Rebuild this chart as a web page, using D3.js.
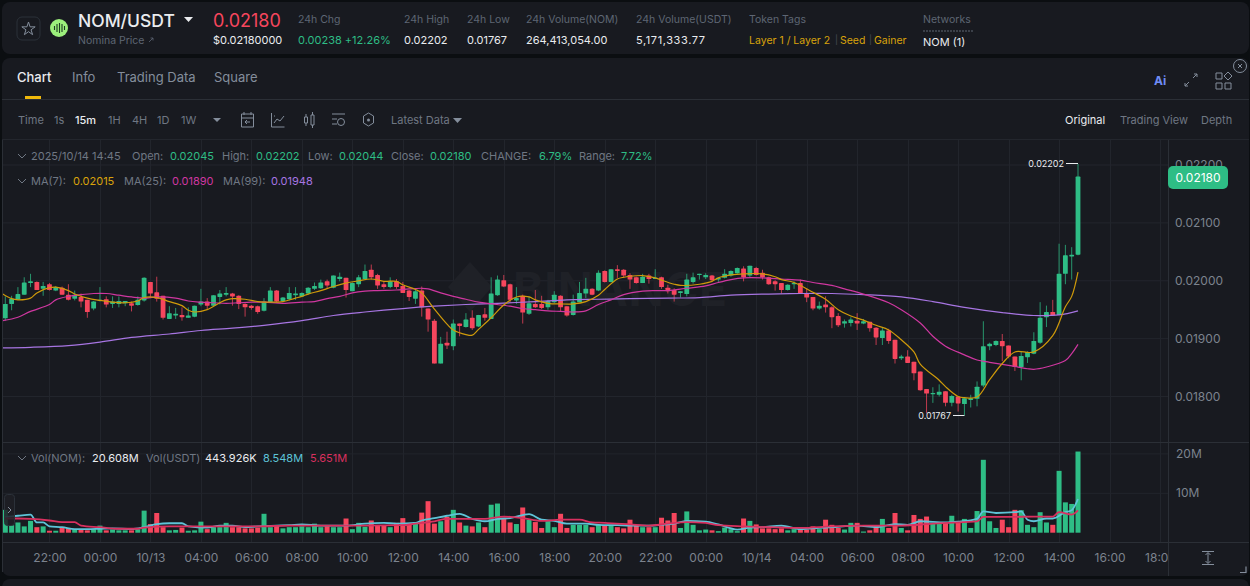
<!DOCTYPE html>
<html>
<head>
<meta charset="utf-8">
<style>
html, body { margin: 0; padding: 0; background: #0b0e11; overflow: hidden; }
svg { display: block; font-family: Inter, "Noto Sans", sans-serif; }
.yaxis text, .xaxis text { fill: #7c838e; font-size: 12px; font-family: Inter, sans-serif; }
</style>
</head>
<body>
<svg id="chart" width="1250" height="586"></svg>
<script src="https://cdn.jsdelivr.net/npm/d3@7"></script>
<script>
// prices are in units of 0.00001 USDT, one entry per 15m candle
var opens = [
  1935,1960,1967,1976,1996,1998,1986,1994,1983,1988,
  1976,1969,1972,1967,1952,1966,1968,1960,1960,1961,
  1961,1958,1966,1998,1980,1974,1934,1940,1941,1936,
  1938,1959,1964,1957,1972,1976,1978,1974,1960,1957,
  1956,1948,1963,1983,1965,1968,1975,1973,1978,1986,
  1987,1999,1988,2003,2005,1982,1994,2003,2019,2010,
  1994,1989,1999,1991,1983,1969,1983,1952,1931,1857,
  1893,1887,1926,1920,1936,1921,1942,1934,1975,2001,
  1994,1966,1974,1943,1960,1960,1954,1963,1974,1956,
  1941,1963,1978,1986,1983,2017,1998,2020,2019,2010,
  2006,1996,2009,2003,2006,1988,1984,1979,1977,1998,
  2010,2006,2009,2002,2005,2009,2013,2021,2009,2022,
  2014,2006,1999,1996,1984,1994,1996,1979,1972,1952,
  1959,1954,1939,1926,1927,1931,1926,1929,1919,1901,
  1914,1898,1866,1869,1860,1843,1813,1804,1803,1809,
  1789,1800,1787,1794,1796,1819,1887,1889,1896,1888,
  1869,1851,1868,1874,1893,1937,1946,1941,2012,2042,
  2045];
var closes = [
  1960,1969,1977,1997,1999,1984,1991,1984,1989,1976,
  1967,1976,1964,1946,1964,1967,1959,1964,1965,1965,
  1957,1967,2005,1978,1969,1936,1944,1943,1937,1940,
  1957,1964,1957,1975,1978,1979,1973,1960,1954,1953,
  1946,1964,1983,1964,1971,1979,1978,1979,1988,1991,
  1997,1992,2009,2007,1984,1996,2006,2017,2006,1992,
  1989,1999,1989,1979,1972,1982,1954,1933,1857,1891,
  1888,1926,1922,1933,1918,1941,1936,1978,2002,1990,
  1967,1970,1945,1961,1954,1953,1965,1976,1954,1940,
  1964,1979,1986,1976,2014,1998,2020,2017,2009,2002,
  1996,2007,2003,2005,1989,1982,1976,1982,2002,2006,
  2012,2010,2001,2005,2012,2017,2022,2006,2026,2010,
  2006,1994,1994,1984,1993,1996,1978,1971,1952,1957,
  1954,1937,1923,1930,1933,1926,1930,1918,1902,1914,
  1896,1865,1869,1858,1840,1811,1805,1806,1808,1789,
  1801,1788,1797,1797,1817,1887,1891,1896,1887,1869,
  1851,1870,1877,1896,1936,1946,1940,2012,2044,2045,
  2180];
var highs = [
  1973,1974,1989,2006,2012,1999,1998,1996,1991,1990,
  1994,1983,1978,1967,1965,1989,1973,1973,1973,1965,
  1964,1973,2006,1998,2007,1974,1956,1953,1954,1954,
  1957,1986,1970,1975,1984,1989,1979,1975,1961,1958,
  1957,1970,1989,1984,1972,1989,1989,1980,1989,1997,
  2002,2002,2009,2014,2005,1997,2010,2028,2028,2012,
  1999,2006,2003,1998,1984,1987,1990,1952,1934,1903,
  1912,1933,1926,1944,1949,1941,1953,2006,2009,2010,
  1995,1989,1976,1973,1984,1974,1967,1982,1975,1956,
  1976,1998,2005,1987,2018,2018,2020,2027,2020,2013,
  2007,2012,2012,2020,2007,1993,1987,1982,2012,2014,
  2012,2013,2010,2006,2020,2018,2023,2025,2026,2024,
  2019,2007,2001,1996,1994,1999,2002,1987,1972,1964,
  1973,1956,1944,1933,1937,1944,1934,1929,1920,1919,
  1917,1898,1872,1880,1860,1843,1813,1816,1821,1809,
  1803,1800,1797,1803,1826,1930,1893,1897,1908,1888,
  1869,1878,1878,1911,1963,1957,1967,2064,2062,2058,
  2202];
var lows = [
  1931,1949,1967,1976,1989,1984,1974,1983,1982,1976,
  1966,1966,1954,1936,1949,1964,1954,1953,1954,1956,
  1947,1957,1964,1970,1964,1933,1934,1934,1931,1936,
  1937,1956,1950,1956,1959,1973,1957,1951,1938,1950,
  1943,1947,1963,1963,1963,1966,1967,1972,1976,1984,
  1986,1986,1987,1999,1971,1982,1989,2002,2002,1986,
  1986,1987,1986,1979,1965,1960,1938,1912,1857,1857,
  1882,1880,1904,1919,1915,1920,1931,1934,1974,1989,
  1963,1960,1926,1941,1953,1951,1950,1961,1947,1938,
  1940,1963,1970,1975,1982,1997,1997,2005,2005,1986,
  1995,1996,1995,2003,1986,1978,1964,1971,1973,1995,
  2002,2003,1999,1998,2004,2007,2012,1999,2006,2009,
  2002,1993,1983,1978,1983,1986,1978,1963,1949,1950,
  1945,1918,1920,1919,1921,1915,1925,1912,1889,1889,
  1891,1857,1863,1858,1828,1810,1771,1789,1800,1783,
  1783,1774,1767,1781,1783,1816,1880,1887,1861,1866,
  1844,1828,1858,1873,1891,1920,1940,1941,1994,2002,
  2044];
// volume in millions of NOM
var vols = [
  5.8,1.9,2.6,1.6,3.0,1.4,1.6,0.5,0.5,1.2,
  1.1,0.9,0.8,0.6,0.9,1.8,0.6,0.8,0.6,0.6,
  0.6,0.9,5.6,2.2,5.0,1.4,0.6,0.7,1.3,0.5,
  0.6,2.8,0.9,1.4,1.4,2.5,1.4,1.4,1.1,1.1,
  1.3,4.8,1.4,1.8,1.1,1.4,1.4,1.6,1.4,2.3,
  1.4,1.6,1.4,1.4,3.6,0.9,2.5,1.5,3.1,1.8,
  1.8,1.4,2.5,3.7,2.3,2.6,5.1,8.0,2.3,2.9,
  4.0,5.8,2.6,1.8,1.6,2.6,1.4,7.1,7.4,3.7,
  2.6,2.2,6.4,3.3,2.7,1.2,2.9,1.4,4.8,1.2,
  2.0,2.0,2.0,1.4,2.0,1.8,1.8,1.4,1.1,3.3,
  1.9,1.4,1.4,1.4,3.8,3.1,5.0,1.2,5.4,2.0,
  0.6,0.8,0.6,0.4,1.3,0.9,0.4,3.6,3.0,2.1,
  1.1,1.1,0.9,1.1,0.6,0.9,0.9,0.8,1.6,0.9,
  3.3,2.0,1.2,0.8,2.5,2.5,0.3,0.6,1.8,3.5,
  1.2,5.0,1.2,0.6,4.5,3.5,4.1,2.5,2.5,2.5,
  4.3,2.5,3.5,1.2,5.5,18.5,2.9,1.2,3.3,1.4,
  5.8,5.7,2.0,1.4,5.2,2.6,2.0,15.7,7.7,7.3,
  20.6];

// moving averages: [candle number, value]
var ma7 = [[-0.4,1977],[1,1969],[2,1967],[4,1970],[5,1979],[7,1988],[8,1989],[10,1983],[11,1977],[13,1970],[15,1966],[17,1963],[19,1962],[21,1965],[22,1971],[24,1971],[26,1964],[28,1957],[29,1949],[30,1946],[32,1950],[34,1962],[35,1967],[36,1969],[38,1968],[40,1964],[42,1963],[44,1964],[46,1970],[47,1973],[48,1977],[50,1983],[52,1990],[54,1996],[56,2000],[58,2003],[60,1999],[62,1999],[63,1993],[65,1985],[66,1979],[68,1951],[70,1925],[71,1915],[73,1907],[74,1906],[75,1916],[77,1936],[79,1958],[81,1972],[83,1972],[84,1967],[86,1961],[88,1960],[90,1960],[92,1964],[94,1975],[95,1985],[97,2003],[98,2006],[101,2009],[103,2005],[104,2001],[106,1994],[107,1992],[110,1994],[112,1999],[113,2005],[115,2010],[117,2012],[120,2012],[122,2007],[123,2002],[125,1997],[128,1980],[130,1968],[132,1950],[134,1939],[136,1932],[138,1923],[140,1915],[142,1898],[144,1877],[145,1856],[148,1828],[149,1817],[151,1800],[152,1798],[154,1799],[156,1829],[158,1857],[160,1877],[163,1877],[166,1905],[168,1955],[169,1973],[170,2015]];
var ma25 = [[-0.4,1931],[2,1937],[4,1947],[7,1959],[8,1967],[10,1973],[12,1976],[14,1978],[16,1978],[18,1975],[20,1972],[22,1970],[24,1972],[27,1970],[29,1965],[31,1963],[33,1962],[35,1961],[37,1962],[39,1963],[41,1963],[44,1961],[47,1963],[49,1964],[51,1969],[53,1973],[55,1979],[57,1982],[59,1983],[62,1984],[64,1986],[66,1987],[67,1986],[69,1979],[71,1973],[73,1968],[75,1963],[77,1960],[80,1956],[82,1952],[84,1950],[86,1948],[88,1947],[90,1946],[92,1948],[94,1959],[96,1967],[98,1976],[101,1982],[103,1983],[105,1983],[108,1987],[111,1991],[113,1997],[115,2002],[117,2005],[120,2005],[123,2003],[126,2001],[128,1997],[131,1992],[133,1986],[136,1977],[140,1962],[142,1950],[145,1927],[147,1904],[149,1887],[152,1872],[154,1863],[156,1859],[160,1852],[162,1848],[163,1847],[165,1851],[168,1862],[169,1874],[170,1890]];
var ma99 = [[-0.4,1884],[4,1885],[10,1888],[15,1894],[20,1902],[26,1908],[31,1914],[36,1918],[41,1923],[47,1931],[52,1940],[57,1946],[63,1952],[68,1956],[73,1959],[78,1961],[84,1964],[89,1967],[94,1968],[99,1969],[105,1970],[110,1971],[115,1975],[121,1977],[126,1978],[131,1978],[136,1976],[142,1972],[147,1964],[152,1954],[158,1945],[163,1940],[167,1941],[170,1948]];
var volMaShort = [[0,4.0],[2,4.3],[4,4.6],[5,2.6],[6,2.6],[7,1.6],[9,1.4],[11,0.9],[13,0.9],[15,1.0],[17,1.1],[20,0.9],[22,1.4],[24,2.2],[26,2.4],[28,2.4],[29,1.6],[32,1.3],[34,1.8],[36,1.8],[38,1.4],[40,1.6],[43,1.8],[45,1.9],[47,2.1],[50,1.8],[54,1.8],[57,2.3],[60,2.5],[62,2.3],[65,2.5],[66,3.1],[68,3.7],[70,4.3],[72,4.8],[74,3.5],[76,2.9],[78,3.5],[80,3.7],[83,4.7],[85,3.3],[87,3.0],[89,2.3],[92,2.3],[94,2.0],[97,1.9],[99,1.8],[102,1.8],[104,2.0],[106,2.3],[108,3.0],[111,2.8],[113,2.1],[116,0.8],[118,1.3],[120,1.4],[123,1.8],[126,0.9],[129,1.2],[131,1.4],[135,1.8],[138,1.4],[141,2.2],[143,2.0],[145,2.9],[149,2.6],[151,2.8],[154,3.5],[155,5.4],[157,5.0],[160,5.2],[161,5.4],[162,3.3],[163,2.9],[165,3.6],[166,3.6],[168,5.2],[169,5.7],[170,8.548]];
var volMaLong = [[0,3.6],[2,3.6],[4,3.5],[7,3.1],[9,2.7],[11,2.7],[12,1.8],[15,1.4],[18,1.0],[21,1.0],[22,1.3],[26,1.6],[29,1.6],[32,1.6],[36,1.6],[40,1.6],[45,1.8],[50,1.8],[57,1.8],[63,1.9],[65,2.3],[68,2.9],[70,3.5],[73,3.5],[76,3.5],[79,4.1],[82,3.7],[85,3.0],[88,3.3],[91,3.3],[93,2.6],[95,2.5],[99,2.1],[102,1.8],[105,2.3],[108,2.7],[111,2.5],[113,1.9],[117,1.6],[121,1.4],[126,1.2],[131,1.6],[136,1.8],[142,1.8],[147,2.3],[152,2.7],[154,2.9],[155,4.0],[159,4.0],[163,4.1],[166,4.1],[167,5.2],[169,4.6],[170,5.651]];

var priceTicks = [1800, 1900, 2000, 2100, 2200];
var volTicks = [10, 20];
var timeLabels = ["22:00","00:00","10/13","04:00","06:00","08:00","10:00","12:00","14:00","16:00","18:00","20:00","22:00","00:00","10/14","04:00","06:00","08:00","10:00","12:00","14:00","16:00","18:00"];

var GREEN = "#2ebd85", RED = "#f6465d", GREY = "#848e9c", LABEL = "#6f7783", DIM = "#5e6673", WHITE = "#eaecef",
    YELLOW = "#d9a30b", MA7C = "#cf9a0a", PINK = "#cf37a0", PURPLE = "#a775e2", BLUE = "#5ec4d8", VOLRED = "#d9305f";

var svg = d3.select("#chart");

function text(x, y, s, color, size, weight, anchor) {
  return svg.append("text").attr("x", x).attr("y", y).attr("dy", "0.35em")
    .attr("fill", color).attr("font-size", size || 11).attr("font-weight", weight || 400)
    .attr("text-anchor", anchor || "start").text(s);
}
function icon(d, color, w) {
  return svg.append("path").attr("d", d).attr("fill", "none").attr("stroke", color || GREY).attr("stroke-width", w || 1.2);
}

// panels
svg.append("rect").attr("x", 2).attr("y", 2).attr("width", 1247).attr("height", 52).attr("rx", 8).attr("fill", "#181a20");
svg.append("rect").attr("x", 2).attr("y", 58).attr("width", 1247).attr("height", 518).attr("rx", 8).attr("fill", "#181a20");
svg.append("rect").attr("x", 2).attr("y", 579).attr("width", 1247).attr("height", 20).attr("rx", 8).attr("fill", "#181a20");

// header row
svg.append("rect").attr("x", 17).attr("y", 17).attr("width", 23).attr("height", 23).attr("rx", 5).attr("fill", "none").attr("stroke", "#2b3139");
svg.append("path").attr("d", d3.symbol(d3.symbolStar, 55)).attr("transform", "translate(28.5,29)").attr("fill", "none").attr("stroke", GREY);
svg.append("circle").attr("cx", 59).attr("cy", 28).attr("r", 9).attr("fill", "#9cef7c");
icon("M54.5 26v4M57 24v8M59.5 23v10M62 24v8M64.5 26v4", "#1c3a22", 1.1);
text(78, 21, "NOM/USDT", WHITE, 17.5, 500);
svg.append("path").attr("d", "M184 17h9l-4.5 5z").attr("fill", WHITE);
text(78, 40, "Nomina Price", DIM, 10.5);
icon("M149 42l4-4M150.5 38h2.5v2.5", DIM, 0.8);
text(213, 21, "0.02180", RED, 18, 400);
text(213, 40, "$0.02180000", WHITE, 11);

var headLabels = ["24h Chg", "24h High", "24h Low", "24h Volume(NOM)", "24h Volume(USDT)", "Token Tags", "Networks"];
var headX = [298, 404, 467, 526, 636, 749, 923];
headLabels.forEach(function(s, i) { text(headX[i], 19, s, DIM, 10.5); });
var headValues = ["0.00238 +12.26%", "0.02202", "0.01767", "264,413,054.00", "5,171,333.77"];
headValues.forEach(function(s, i) {
  var t = text(headX[i], 40, s, i == 0 ? GREEN : WHITE, 11);
  if (i == 4) t.attr("textLength", 69);
});
text(749, 40, "Layer 1 / Layer 2", YELLOW, 10.5);
text(835, 40, "|", "#474d57", 9);
text(840, 40, "Seed", YELLOW, 10.5);
text(869, 40, "|", "#474d57", 9);
text(874, 40, "Gainer", YELLOW, 10.5);
svg.append("line").attr("x1", 923).attr("x2", 973).attr("y1", 31).attr("y2", 31).attr("stroke", DIM).attr("stroke-dasharray", "2 1");
text(923, 42, "NOM (1)", WHITE, 11);

// tabs
text(17, 77.5, "Chart", WHITE, 13, 500);
text(72, 77.5, "Info", GREY, 13);
text(117, 77.5, "Trading Data", GREY, 13);
text(214, 77.5, "Square", GREY, 13);
svg.append("rect").attr("x", 25).attr("y", 96).attr("width", 16).attr("height", 3).attr("fill", "#f0b90b");
svg.append("line").attr("x1", 2).attr("x2", 1249).attr("y1", 99.5).attr("y2", 99.5).attr("stroke", "#2b2f36");
text(1154, 81, "Ai", "#6f8cf5", 12, 700);
icon("M1185 86l4-4M1193 78l4-4M1194 74h3v3M1185 83v3h3", GREY, 1);
icon("M1216 73h6v6h-6zM1216 83h6v6h-6zM1225 83h6v6h-6zM1228 72l4 4-4 4-4-4z", GREY, 1);
svg.append("circle").attr("cx", 1240).attr("cy", 66).attr("r", 6.5).attr("fill", "none").attr("stroke", GREY);
icon("M1238 64l4 4M1242 64l-4 4", GREY, 1);

// toolbar
var toolLabels = ["Time", "1s", "15m", "1H", "4H", "1D", "1W"];
var toolX = [18, 54, 75, 108, 132, 157, 181];
toolLabels.forEach(function(s, i) { text(toolX[i], 120, s, s == "15m" ? WHITE : LABEL, 11, s == "15m" ? 500 : 400); });
svg.append("path").attr("d", "M213 118h8l-4 4z").attr("fill", GREY);
icon("M241.5 114h12v13h-12zM241.5 118h12M244 112v3M251 112v3M250 122h-5M247 120l-2 2 2 2", GREY, 1);
icon("M271.5 113v14h13M274 123l3-4 3 2 4-5M274 116h1", GREY, 1);
icon("M304.5 117h3v6h-3zM311 115h3v10h-3zM306 114v3M306 123v3M312.5 112v3M312.5 125v3", GREY, 1);
icon("M332 114h13M332 119h5M332 124h5", GREY, 1);
svg.append("circle").attr("cx", 341).attr("cy", 122).attr("r", 3.5).attr("fill", "none").attr("stroke", GREY);
icon("M368.5 113l5 3v7l-5 3-5-3v-7z", GREY, 1);
svg.append("circle").attr("cx", 368.5).attr("cy", 120).attr("r", 1.5).attr("fill", GREY);
text(391, 120, "Latest Data", LABEL, 11);
svg.append("path").attr("d", "M453 118h9l-4.5 5z").attr("fill", GREY);
text(1065, 120, "Original", WHITE, 11);
text(1120, 120, "Trading View", LABEL, 11);
text(1201, 120, "Depth", LABEL, 11);
svg.append("line").attr("x1", 2).attr("x2", 1249).attr("y1", 139.5).attr("y2", 139.5).attr("stroke", "#23262d");

// scales
var t0 = Date.UTC(2025, 9, 12, 20, 15);
var bars = d3.range(opens.length);
var toDate = function(i) { return new Date(t0 + i * 9e5); };
var x = d3.scaleUtc().domain([toDate(0), toDate(170)]).range([5.3, 1078]);
var xi = function(i) { return x(toDate(i)); };
var y = d3.scaleLinear().domain([1800, 2200]).range([396.5, 165]);
var yv = d3.scaleLinear().domain([0, 20]).range([532.7, 453.9]);
var timeTicks = timeLabels.map(function(s, i) { return toDate(7 + i * 8); });

// grid
var grid = svg.append("g").attr("stroke", "#22252c").attr("stroke-width", 1);
grid.selectAll("line.v").data(timeTicks).join("line").attr("class", "v")
  .attr("x1", function(d) { return Math.round(x(d)) + 0.5; }).attr("x2", function(d) { return Math.round(x(d)) + 0.5; })
  .attr("y1", 140).attr("y2", 542);
grid.selectAll("line.h").data(priceTicks).join("line").attr("class", "h")
  .attr("x1", 3).attr("x2", 1168).attr("y1", function(d) { return y(d); }).attr("y2", function(d) { return y(d); });
grid.selectAll("line.hv").data(volTicks).join("line").attr("class", "hv")
  .attr("x1", 3).attr("x2", 1168).attr("y1", function(d) { return yv(d); }).attr("y2", function(d) { return yv(d); });

// faint watermark
svg.append("path").attr("d", "M470 262l22 25-22 25-22-25z").attr("fill", "#1f2127");
text(513, 290, "BINANCE", "#1f2127", 46, 700).attr("textLength", 214);

// candles
var candles = svg.append("g");
candles.selectAll("line").data(bars).join("line")
  .attr("x1", xi).attr("x2", xi)
  .attr("y1", function(i) { return y(highs[i]); }).attr("y2", function(i) { return y(lows[i]); })
  .attr("stroke", function(i) { return closes[i] >= opens[i] ? GREEN : RED; })
  .attr("stroke-opacity", 0.75).attr("stroke-width", 1);
candles.selectAll("rect").data(bars).join("rect")
  .attr("x", function(i) { return xi(i) - 2.4; }).attr("width", 4.8).attr("rx", 0.6)
  .attr("y", function(i) { return y(Math.max(opens[i], closes[i])); })
  .attr("height", function(i) { return Math.max(1, Math.abs(y(opens[i]) - y(closes[i]))); })
  .attr("fill", function(i) { return closes[i] >= opens[i] ? GREEN : RED; });

// moving averages
var maLine = d3.line().curve(d3.curveCatmullRom.alpha(0.5))
  .x(function(d) { return xi(d[0]); }).y(function(d) { return y(d[1]); });
[[ma99, PURPLE], [ma25, PINK], [ma7, MA7C]].forEach(function(m) {
  svg.append("path").attr("d", maLine(m[0])).attr("fill", "none").attr("stroke", m[1]).attr("stroke-width", 1.2);
});

// volume bars
svg.append("g").selectAll("rect").data(bars).join("rect")
  .attr("x", function(i) { return xi(i) - 2.5; }).attr("width", 5)
  .attr("y", function(i) { return yv(vols[i]); })
  .attr("height", function(i) { return yv(0) - yv(vols[i]); })
  .attr("fill", function(i) { return closes[i] >= opens[i] ? GREEN : RED; });
var volLine = d3.line().curve(d3.curveMonotoneX)
  .x(function(d) { return xi(d[0]); }).y(function(d) { return yv(d[1]); });
svg.append("path").attr("d", volLine(volMaShort)).attr("fill", "none").attr("stroke", BLUE).attr("stroke-width", 1.8);
svg.append("path").attr("d", volLine(volMaLong)).attr("fill", "none").attr("stroke", VOLRED).attr("stroke-width", 1.8);

// chart frame
var frame = svg.append("g").attr("stroke", "#2b2f36");
frame.append("line").attr("x1", 3).attr("x2", 1249).attr("y1", 442.5).attr("y2", 442.5);
frame.append("line").attr("x1", 3).attr("x2", 1249).attr("y1", 542.5).attr("y2", 542.5);
frame.append("line").attr("x1", 1168.5).attr("x2", 1168.5).attr("y1", 140).attr("y2", 576);
frame.append("line").attr("x1", 2.5).attr("x2", 2.5).attr("y1", 140).attr("y2", 572);

// axes
svg.append("g").attr("class", "yaxis").attr("transform", "translate(1175,0)")
  .call(d3.axisRight(y).tickValues(priceTicks).tickSize(0).tickPadding(0).tickFormat(function(d) { return (d / 1e5).toFixed(5); }))
  .call(function(g) { g.select(".domain").remove(); });
svg.append("g").attr("class", "yaxis").attr("transform", "translate(1176,-0.5)")
  .call(d3.axisRight(yv).tickValues(volTicks).tickSize(0).tickPadding(0).tickFormat(function(d) { return d + "M"; }))
  .call(function(g) { g.select(".domain").remove(); });
svg.append("clipPath").attr("id", "xclip").append("rect").attr("x", 3).attr("y", 543).attr("width", 1165).attr("height", 32);
svg.append("g").attr("clip-path", "url(#xclip)").append("g").attr("class", "xaxis").attr("transform", "translate(0,553)")
  .call(d3.axisBottom(x).tickValues(timeTicks).tickSize(0).tickPadding(0).tickFormat(function(d, i) { return timeLabels[i]; }))
  .call(function(g) { g.select(".domain").remove(); });

// last price tag
svg.append("rect").attr("x", 1168).attr("y", 166).attr("width", 60).attr("height", 23).attr("rx", 5).attr("fill", GREEN);
text(1198, 178, "0.02180", "#fff", 12, 400, "middle");

// high / low marks
text(1064, 163.5, "0.02202", WHITE, 9, 400, "end");
svg.append("line").attr("x1", 1066).attr("x2", xi(170)).attr("y1", 163.5).attr("y2", 163.5).attr("stroke", WHITE);
text(951, 416, "0.01767", WHITE, 9, 400, "end");
svg.append("line").attr("x1", 953).attr("x2", xi(152)).attr("y1", 415.5).attr("y2", 415.5).attr("stroke", WHITE);

// legends
function chevron(cx, cy) { icon("M" + (cx - 4) + " " + (cy - 2) + "l4 4 4-4", LABEL, 1); }
chevron(22, 156);
var row1 = [[31, "2025/10/14 14:45", LABEL], [132, "Open:", LABEL], [170, "0.02045", GREEN], [222, "High:", LABEL], [256, "0.02202", GREEN],
  [308, "Low:", LABEL], [339, "0.02044", GREEN], [391, "Close:", LABEL], [430, "0.02180", GREEN], [481, "CHANGE:", LABEL], [539, "6.79%", GREEN],
  [579, "Range:", LABEL], [621, "7.72%", GREEN]];
row1.forEach(function(r) { text(r[0], 156, r[1], r[2], 11); });
chevron(22, 181);
var row2 = [[31, "MA(7):", LABEL], [73, "0.02015", YELLOW], [124, "MA(25):", LABEL], [172, "0.01890", PINK], [223, "MA(99):", LABEL], [271, "0.01948", PURPLE]];
row2.forEach(function(r) { text(r[0], 181, r[1], r[2], 11); });
chevron(22, 458);
var row3 = [[31, "Vol(NOM):", LABEL], [92, "20.608M", WHITE], [146, "Vol(USDT)", LABEL], [205, "443.926K", WHITE], [263, "8.548M", BLUE], [310, "5.651M", VOLRED]];
row3.forEach(function(r) { text(r[0], 458, r[1], r[2], 11); });

// left handle and bottom icons
svg.append("rect").attr("x", 4.5).attr("y", 494.5).attr("width", 10).attr("height", 31).attr("rx", 3).attr("fill", "#1e2026").attr("fill-opacity", 0.85).attr("stroke", "#2b3139");
icon("M8 507l3 3-3 3", GREY, 1);
icon("M1202 551.5h12M1202 564.5h12M1208 553v10M1205.5 555l2.5-2.5 2.5 2.5M1205.5 561l2.5 2.5 2.5-2.5", GREY, 1);
icon("M1240 572.5h6v-6", GREY, 1.2);
</script>
</body>
</html>
